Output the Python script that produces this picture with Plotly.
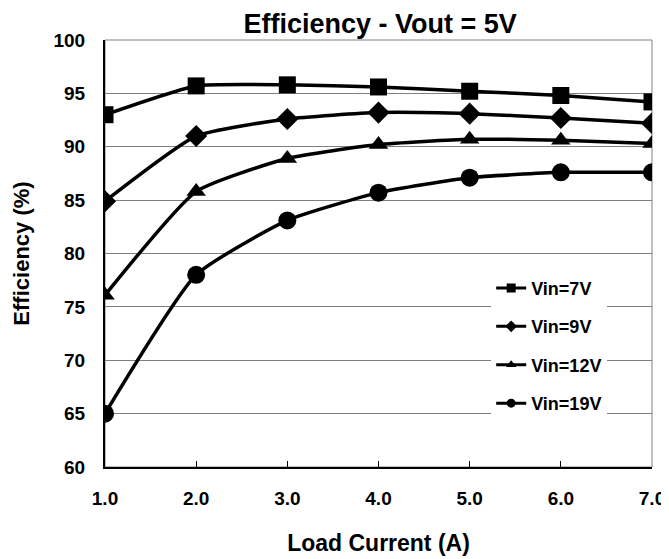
import plotly.graph_objects as go

load_current = [1, 2, 3, 4, 5, 6, 7]
vin7 = [93.0, 95.7, 95.8, 95.6, 95.2, 94.8, 94.2]
vin9 = [84.9, 91.0, 92.6, 93.2, 93.1, 92.7, 92.2]
vin12 = [76.1, 85.8, 88.9, 90.2, 90.7, 90.6, 90.3]
vin19 = [65.0, 78.0, 83.1, 85.7, 87.1, 87.6, 87.6]
series = [("Vin=7V", vin7, "square"), ("Vin=9V", vin9, "diamond"),
          ("Vin=12V", vin12, "triangle-up"), ("Vin=19V", vin19, "circle")]
x_ticks = [1, 2, 3, 4, 5, 6, 7]
x_tick_labels = ["1.0", "2.0", "3.0", "4.0", "5.0", "6.0", "7.0"]

font = "Liberation Sans, Arial, sans-serif"
fig = go.Figure()
for i, (name, vals, sym) in enumerate(series):
    fig.add_trace(go.Scatter(
        x=load_current, y=vals, name=name, mode="lines+markers", legendgroup=f"g{i}",
        showlegend=False,
        line=dict(color="black", width=3.5, shape="spline", smoothing=0.5),
        marker=dict(symbol=sym, size=17 if sym != "circle" else 18, color="black"),
    ))
    # legend proxy with small marker, as in the reference legend
    fig.add_trace(go.Scatter(
        x=[None], y=[None], name=name, mode="lines+markers", legendgroup=f"g{i}",
        line=dict(color="black", width=3),
        marker=dict(symbol=sym, size=9, color="black"),
    ))

fig.add_shape(type="rect", xref="x domain", yref="y domain", x0=0, y0=0, x1=1, y1=1,
              line=dict(color="#808080", width=1), layer="below")

fig.update_layout(
    width=661, height=551,
    margin=dict(l=97, r=17, t=32, b=92, autoexpand=False),
    paper_bgcolor="white", plot_bgcolor="white",
    title=dict(text="Efficiency - Vout = 5V", x=0.563, xanchor="center",
               y=0.989, yanchor="top",
               font=dict(family=font, size=27, color="black", weight="bold")),
    font=dict(family=font, color="black"),
    showlegend=True,
    legend=dict(x=0.706, y=0.462, xanchor="left", yanchor="top",
                bgcolor="white", borderwidth=0,
                font=dict(family=font, size=18, color="black", weight="bold"),
                tracegroupgap=12),
)
fig.update_xaxes(range=[1, 7], tickvals=x_ticks, ticktext=x_tick_labels,
                 showgrid=False, showline=True, linecolor="black", linewidth=2,
                 ticks="inside", ticklen=6, tickcolor="black", tickwidth=1,
                 ticklabelstandoff=13, automargin=False,
                 tickfont=dict(family=font, size=19, color="black", weight="bold"),
                 title=dict(text="Load Current (A)",
                            font=dict(family=font, size=23, weight="bold"), standoff=27),
                 zeroline=False)
fig.update_yaxes(range=[60, 100], dtick=5, showgrid=True, gridcolor="#808080", gridwidth=1,
                 showline=True, linecolor="black", linewidth=2, ticks="",
                 ticklabelstandoff=14, automargin=False,
                 tickfont=dict(family=font, size=19, color="black", weight="bold"),
                 title=dict(text="Efficiency (%)",
                            font=dict(family=font, size=22, weight="bold"), standoff=18),
                 zeroline=False)
fig.write_html("out.html")
